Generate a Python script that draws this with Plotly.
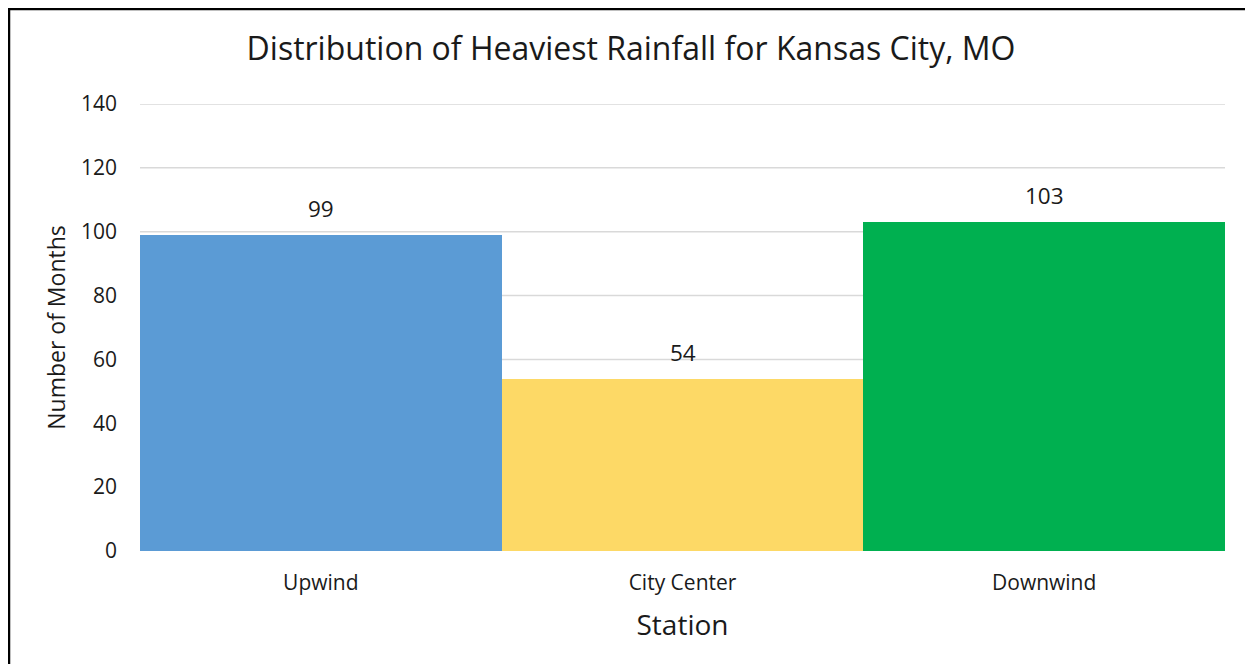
import plotly.graph_objects as go

# chart data
stations = ["Upwind", "City Center", "Downwind"]
months = [99, 54, 103]
bar_colors = ["#5B9BD5", "#FDD966", "#00B050"]
y_ticks = [0, 20, 40, 60, 80, 100, 120, 140]

# the page body adds an 8px margin all round, so the figure is drawn smaller
OFF = 8
W, H = 1253 - 2 * OFF, 672 - 2 * OFF
L, R, T, B = 140 - OFF, W + OFF - 1225, 104 - OFF, H + OFF - 551
FONT = "Open Sans, Calibri, sans-serif"
TXT = "#1a1a1a"


def px_to_paper(x, y):
    """Turn figure pixels into paper coordinates."""
    pw, ph = W - L - R, H - T - B
    return (x - L) / pw, (H - B - y) / ph


fig = go.Figure(go.Bar(
    x=stations, y=months,
    marker=dict(color=bar_colors, line=dict(width=0)),
    width=1,
    hoverinfo="x+y",
))

# gridlines as shapes, so the ones at 0 and 140 are drawn too
for v in y_ticks:
    fig.add_shape(type="line", xref="paper", yref="y", layer="below",
                  x0=0, x1=1, y0=v, y1=v,
                  line=dict(color="#D9D9D9", width=1.5))

for s, v in zip(stations, months):
    fig.add_annotation(
        x=s, y=v, text=str(v), showarrow=False,
        yanchor="bottom", yshift=9,
        font=dict(size=22.5, color=TXT, family=FONT),
    )

# black frame on top and left, as in the source image (one open path)
fx0, fy0 = px_to_paper(1, 1)
fx1, fy1 = px_to_paper(W + 2, H + 2)
fig.add_shape(type="path", xref="paper", yref="paper",
              path=f"M {fx0},{fy1} L {fx0},{fy0} L {fx1},{fy0}",
              fillcolor="rgba(0,0,0,0)",
              line=dict(color="black", width=2.5))

fig.update_layout(
    width=W, height=H,
    margin=dict(l=L, r=R, t=T, b=B, autoexpand=False),
    paper_bgcolor="white", plot_bgcolor="white",
    font=dict(family=FONT, color=TXT),
    title=dict(
        text="Distribution of Heaviest Rainfall for Kansas City, MO",
        x=(631 - OFF) / W, xanchor="center", y=1 - (49 - OFF) / H,
        yanchor="middle",
        font=dict(size=32, color=TXT, family=FONT),
    ),
    bargap=0,
    showlegend=False,
    xaxis=dict(
        range=[-0.5, 2.5], showgrid=False, zeroline=False,
        showline=False, ticks="", ticklabelstandoff=17,
        tickfont=dict(size=21, color=TXT),
        title=dict(text="Station", standoff=20,
                   font=dict(size=28, color=TXT)),
    ),
    yaxis=dict(
        range=[0, 140], tickvals=y_ticks, showgrid=False, zeroline=False,
        showline=False, ticks="", ticklabelstandoff=22,
        tickfont=dict(size=21, color=TXT),
        title=dict(text="Number of Months", standoff=8,
                   font=dict(size=23, color=TXT)),
    ),
)

fig.write_html("out.html")
